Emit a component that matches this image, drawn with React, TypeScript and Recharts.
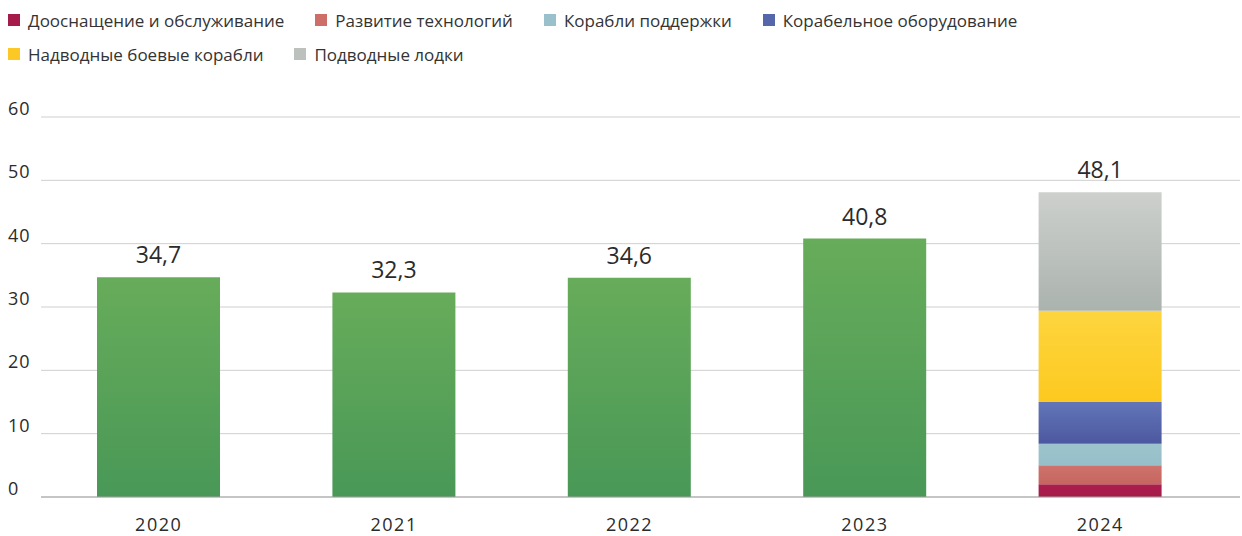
import React from 'react';
import { BarChart, Bar, XAxis, YAxis, CartesianGrid, Legend, LabelList } from 'recharts';

const years = ['2020', '2021', '2022', '2023', '2024'];
const totalValues: (number | null)[] = [34.7, 32.3, 34.6, 40.8, null];
const totalLabels = ['34,7', '32,3', '34,6', '40,8', '48,1'];
const seriesNames = [
  'Дооснащение и обслуживание',
  'Развитие технологий',
  'Корабли поддержки',
  'Корабельное оборудование',
  'Надводные боевые корабли',
  'Подводные лодки',
];
const segments2024 = [2.0, 3.0, 3.4, 6.6, 14.4, 18.7];
const yTicks = [0, 10, 20, 30, 40, 50, 60];

const seriesColors = [
  ['#ab1d4d', '#a51b49'],
  ['#d0736d', '#c5655f'],
  ['#9dc4cd', '#97bfc9'],
  ['#6375b8', '#4c589f'],
  ['#fed53f', '#fcc91f'],
  ['#cdd0cc', '#abb3ae'],
];
const legendSwatch = ['#a51b49', '#cd6e69', '#9ac1cb', '#5566ab', '#fcc825', '#bcc1bd'];

const FONT = '"Open Sans", sans-serif';
const TEXT = '#2b2b2b';

const data = years.map((year, i) => {
  const row: Record<string, any> = {
    year,
    green: totalValues[i],
    greenLabel: totalValues[i] != null ? totalLabels[i] : null,
    topLabel: totalValues[i] == null ? totalLabels[i] : null,
  };
  seriesNames.forEach((_, k) => {
    row['s' + k] = year === '2024' ? segments2024[k] : null;
  });
  return row;
});

const YTick = (props: any) => {
  const { x, y, payload } = props;
  return (
    <text x={x - 33} y={y - 2} textAnchor="start" fill={TEXT} fontSize={18} fontFamily={FONT} letterSpacing={1}>
      {payload.value}
    </text>
  );
};

const XTick = (props: any) => {
  const { x, y, payload } = props;
  return (
    <text x={x} y={y + 34} textAnchor="middle" fill={TEXT} fontSize={18} fontFamily={FONT} letterSpacing={1.5}>
      {payload.value}
    </text>
  );
};

const renderValueLabel = (props: any) => {
  const { x, y, width, value } = props;
  if (value == null || value === '') return null;
  return (
    <text x={x + width / 2} y={y - 14} textAnchor="middle" fill={TEXT} fontSize={23} fontFamily={FONT}>
      {value}
    </text>
  );
};

const LegendContent = () => (
  <div
    style={{
      height: 70,
      width: 1090,
      display: 'flex',
      flexWrap: 'wrap',
      alignContent: 'flex-start',
      paddingLeft: 8,
      paddingTop: 8,
      boxSizing: 'border-box',
      fontFamily: FONT,
      fontSize: 17,
      color: '#333',
      rowGap: 10,
    }}
  >
    {seriesNames.map((name, i) => (
      <div key={name} style={{ display: 'flex', alignItems: 'center', marginRight: 31, height: 24, whiteSpace: 'nowrap' }}>
        <span style={{ display: 'inline-block', width: 12, height: 12, background: legendSwatch[i], marginRight: 8 }} />
        <span>{name}</span>
      </div>
    ))}
  </div>
);

export default function App() {
  return (
    <div style={{ position: 'absolute', left: 0, top: 0, width: 1242, height: 536, background: '#fff' }}>
      <BarChart
        width={1242}
        height={536}
        data={data}
        margin={{ top: 47, right: 2, bottom: 0, left: 0 }}
      >
        <defs>
          <linearGradient id="gGreen" x1="0" y1="0" x2="0" y2="1">
            <stop offset="0%" stopColor="#67ac5a" />
            <stop offset="100%" stopColor="#499857" />
          </linearGradient>
          {seriesColors.map((c, k) => (
            <linearGradient key={k} id={'gS' + k} x1="0" y1="0" x2="0" y2="1">
              <stop offset="0%" stopColor={c[0]} />
              <stop offset="100%" stopColor={c[1]} />
            </linearGradient>
          ))}
        </defs>
        <Legend verticalAlign="top" align="left" wrapperStyle={{ top: 0, left: 0 }} content={() => <LegendContent />} />
        <CartesianGrid vertical={false} stroke="#cfcfcf" strokeWidth={1} />
        <XAxis
          dataKey="year"
          axisLine={{ stroke: '#a3a3a3' }}
          tickLine={false}
          tickSize={0}
          tickMargin={0}
          height={39}
          padding={{ left: 0, right: 22 }}
          tick={<XTick />}
          interval={0}
        />
        <YAxis
          domain={[0, 60]}
          ticks={yTicks}
          axisLine={false}
          tickLine={false}
          tickSize={0}
          tickMargin={0}
          width={41}
          tick={<YTick />}
          interval={0}
        />
        <Bar dataKey="green" stackId="a" fill="url(#gGreen)" barSize={123} isAnimationActive={false}>
          <LabelList dataKey="greenLabel" content={renderValueLabel} />
        </Bar>
        {seriesNames.map((name, k) => (
          <Bar
            key={name}
            name={name}
            dataKey={'s' + k}
            stackId="a"
            fill={'url(#gS' + k + ')'}
            barSize={123}
            isAnimationActive={false}
          >
            {k === seriesNames.length - 1 ? <LabelList dataKey="topLabel" content={renderValueLabel} /> : null}
          </Bar>
        ))}
      </BarChart>
    </div>
  );
}
